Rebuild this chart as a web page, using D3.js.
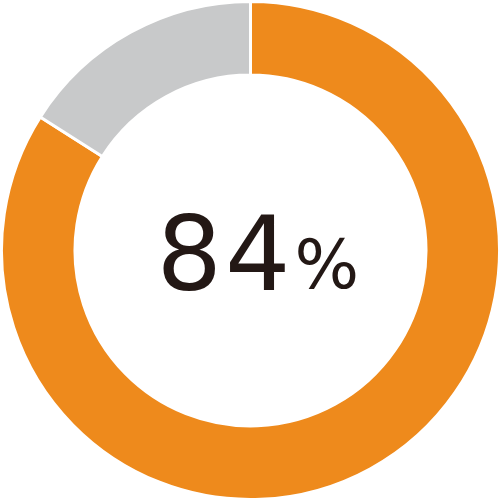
<!DOCTYPE html>
<html>
<head>
<meta charset="utf-8">
<script src="https://cdn.jsdelivr.net/npm/d3@7"></script>
<style>
  html, body { margin: 0; padding: 0; background: #fff; }
</style>
</head>
<body>
<div id="chart"></div>
<script>
const categories = ["yes", "other"];
const values = [84, 16];
const colors = ["#ee8a1c", "#c8c9ca"];
const centerValue = "84";
const centerUnit = "%";

const width = 503, height = 503;
const cx = 250.5, cy = 250.5;
const outer = 249, inner = 175.5;

const svg = d3.select("#chart").append("svg")
    .attr("width", width)
    .attr("height", height);

const g = svg.append("g")
    .attr("transform", "translate(" + cx + "," + cy + ")");

const pie = d3.pie().sort(null).value(function (d) { return d; });
const arc = d3.arc().innerRadius(inner).outerRadius(outer);

g.selectAll("path")
    .data(pie(values))
  .enter().append("path")
    .attr("d", arc)
    .attr("fill", function (d, i) { return colors[i]; })
    .attr("stroke", "#fff")
    .attr("stroke-width", 3);

// big number and the smaller unit
g.append("text")
    .attr("x", -94)
    .attr("y", 39.5)
    .attr("fill", "#231815")
    .attr("letter-spacing", "3px")
    .style("font-family", "'DejaVu Sans', sans-serif")
    .style("font-size", "103px")
    .text(centerValue);

g.append("text")
    .attr("x", 44)
    .attr("y", 37)
    .attr("fill", "#231815")
    .style("font-family", "'DejaVu Sans', sans-serif")
    .style("font-size", "68px")
    .text(centerUnit);
</script>
</body>
</html>
